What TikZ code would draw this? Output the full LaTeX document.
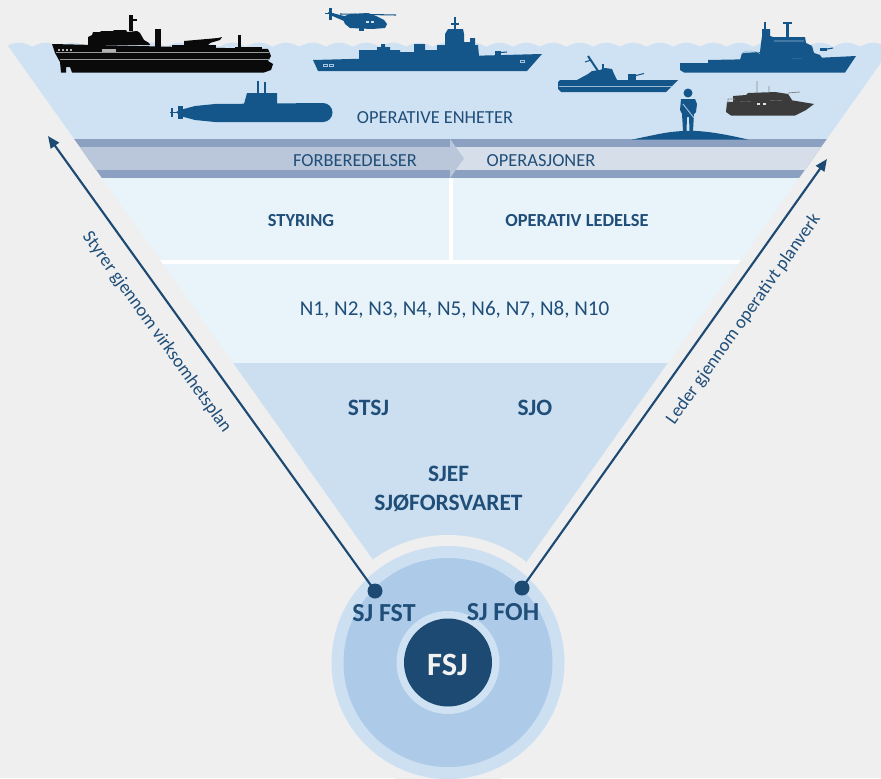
\documentclass[tikz,border=0pt]{standalone}
\usepackage{fontspec}
\setmainfont{Carlito}
\usetikzlibrary{arrows.meta}
\definecolor{bg}{HTML}{EFEFEF}
\definecolor{sea}{HTML}{CFE2F3}
\definecolor{banddark}{HTML}{8CA1C2}
\definecolor{bandl}{HTML}{BAC7DB}
\definecolor{bandr}{HTML}{D6DEE9}
\definecolor{lightsec}{HTML}{E9F3FA}
\definecolor{lowersec}{HTML}{CCDFF0}
\definecolor{ringc}{HTML}{CDE0F1}
\definecolor{medc}{HTML}{ADCBE8}
\definecolor{innerc}{HTML}{CFE2F3}
\definecolor{darkc}{HTML}{1D4A73}
\definecolor{txt}{HTML}{1F4E79}
\definecolor{arrowc}{HTML}{1D4A73}
\definecolor{shipc}{HTML}{14568A}
\definecolor{shipblk}{HTML}{0A0A0A}
\definecolor{boatc}{HTML}{3B3B3B}
\begin{document}
\begin{tikzpicture}[x=0.75pt,y=-0.75pt,
  lbl/.style={text=txt, inner sep=0, anchor=base, font=\fontsize{13.8pt}{16pt}\selectfont},
  lblb/.style={text=txt, inner sep=0, anchor=base, font=\bfseries\fontsize{13.8pt}{16pt}\selectfont},
  lbln/.style={text=txt, inner sep=0, anchor=base, font=\fontsize{15.8pt}{18pt}\selectfont},
  lblm/.style={text=txt, inner sep=0, anchor=base, font=\bfseries\fontsize{17.6pt}{20pt}\selectfont},
  lblf/.style={text=txt, inner sep=0, anchor=base, font=\bfseries\fontsize{19.5pt}{22pt}\selectfont},
  fsjstyle/.style={text=white!95!black, inner sep=0, anchor=base, font=\bfseries\fontsize{24.4pt}{28pt}\selectfont},
  slant/.style={text=txt, inner sep=0, font=\fontsize{13.8pt}{16pt}\selectfont},
  arr/.style={draw=arrowc, line width=1.6pt, -{Triangle[length=9pt,width=7.5pt]}},
  dot/.style={circle, fill=arrowc, inner sep=0, minimum size=11.25pt}
]
\useasboundingbox (0,0) rectangle (881,778);
\fill[bg] (0,0) rectangle (881,778);

% ---------- inverted triangle ----------
\begin{scope}
\clip (-10.3,20) -- (911.3,20) -- (450.5,669) -- cycle;
\fill[sea] (-10,140) -- plot[domain=-10:900, samples=700] (\x, {46.7-4*abs(sin(6.7416*(\x-5.6)))}) -- (900,140) -- cycle;
\fill[banddark] (-20,139) rectangle (920,178);
\fill[bandl] (-20,147) rectangle (450,170);
\fill[bandr] (450,147) rectangle (920,170);
\fill[bandl] (450,139) -- (464,158.5) -- (450,178) -- cycle;
\fill[lightsec] (-20,178) rectangle (920,363);
\draw[white, line width=3pt] (-20,262) -- (920,262);
\draw[white, line width=3pt] (451,178) -- (451,262);
\fill[lowersec] (-20,363) rectangle (920,700);
\end{scope}

% ---------- ships ----------
% black supply ship
\fill[shipblk] (52,44) -- (268,49) -- (271,56) -- (268,61) -- (273,64) -- (271,70) -- (264,72.5) -- (72,72.5) -- (70,67) -- (66,67) -- (66,72.5) -- (61,72.5) -- (60,62) -- (55,53) -- cycle;
\fill[shipblk] (88,45) -- (88,37) -- (92,35) -- (93,32) -- (100,32) -- (101,31) -- (113,31) -- (114,30) -- (126,30) -- (127,32) -- (137,31) -- (140,33) -- (144,40) -- (149,43) -- (150,45) -- cycle;
\fill[shipblk] (129,15) rectangle (133,31);
\fill[shipblk] (133,19) rectangle (137,21);
\fill[shipblk] (155,29) rectangle (161,50);
\fill[shipblk] (172,45) rectangle (216,52);
\fill[shipblk] (184,45) -- (184,41) -- (218,38) -- (222,37) -- (220,40) -- (210,43) -- (208,45) -- cycle;
\fill[shipblk] (238,35) rectangle (241,48);
\fill[shipblk] (235,47) rectangle (262,50);
\draw[gray!80, line width=0.5pt] (56,52.7) -- (269,52.7);
\draw[gray!80, line width=0.5pt] (60,59.3) -- (270,59.3);
\foreach \wx in {58,62,66,70} \fill[gray!60] (\wx,49) rectangle ++(2,1.6);
\fill[gray!60] (102,49) rectangle (116,51.5);

% helicopter
\fill[shipc] (342,17) -- (350,14) -- (368,13) -- (376,16) -- (384,20) -- (387,24) -- (385,28) -- (372,29) -- (350,28) -- (345,24) -- cycle;
\fill[shipc] (328,12) -- (344,16) -- (344,21) -- (330,15) -- cycle;
\fill[shipc] (329,8) rectangle (332,20);
\fill[shipc] (325,12.5) rectangle (334,14);
\draw[shipc, line width=0.8pt] (340,14) -- (396,15);
\fill[shipc] (359,28) rectangle (364,31);
\fill[sea] (366,21) rectangle (369,23);
\fill[sea] (371,21) rectangle (374,23);

% frigate
\fill[shipc] (313,60) -- (542,54) -- (527,71) -- (318,71) -- cycle;
\fill[shipc] (359,61) -- (359,50) -- (377,50) -- (377,47) -- (381,47) -- (381,44) -- (385,44) -- (385,47) -- (390,47) -- (390,50) -- (400,50) -- (400,52) -- (414,52) -- (414,44) -- (425,44) -- (425,50) -- (437,50) -- (437,45) -- (445,45) -- (445,34) -- (448,29) -- (463,29) -- (464,34) -- (464,42) -- (470,42) -- (470,38) -- (475,38) -- (475,45) -- (478,45) -- (479,56) -- cycle;
\fill[shipc] (454,17) rectangle (456,29);
\fill[shipc] (451,23) rectangle (459,24.5);
\fill[shipc] (495,51) rectangle (501,55);
\draw[shipc, line width=0.8pt] (501,52.5) -- (507,52);
\draw[sea!80!shipc, line width=0.4pt] (323,64) rectangle (327,66) (329,64) rectangle (333,66) (520,60) rectangle (524,62);

% patrol boat
\fill[shipc] (560,80) -- (678,80) -- (666,92) -- (561,92) -- (558,89) -- (558,82) -- cycle;
\draw[sea!70!shipc, line width=0.5pt] (559,86) -- (672,86);
\fill[shipc] (577,80) -- (588,74) -- (592,71) -- (600,70) -- (605,68) -- (612,69) -- (614,74) -- (617,80) -- cycle;
\draw[shipc, line width=1.5pt] (588,56) -- (598,71);
\draw[shipc, line width=0.8pt] (585,62) -- (591,60);
\draw[shipc, line width=1pt] (603,64) -- (603,69);
\fill[shipc] (628,74) rectangle (636,80);
\draw[shipc, line width=0.8pt] (636,75.5) -- (644,73.5);

% coast guard ship
\fill[shipc] (680,63) -- (708,63) -- (708,60) -- (815,58) -- (856,56) -- (845,72.5) -- (684,72.5) -- (680,70) -- cycle;
\fill[shipc] (740,60) -- (742,53) -- (760,52) -- (761,43) -- (762,36) -- (762,29) -- (770,29) -- (770,36) -- (773,37) -- (805,37) -- (806,43) -- (812,46) -- (814,53) -- (820,55) -- (822,58) -- cycle;
\fill[shipc] (786,23) rectangle (789,37);
\fill[shipc] (783,22) rectangle (792,24);
\fill[shipc] (764,22) rectangle (766,29);
\fill[shipc] (820,48) rectangle (827,51);
\draw[shipc, line width=0.8pt] (827,49) -- (833,48);
\draw[sea!70!shipc, line width=0.4pt] (742,54) .. controls (742,50) and (758,50) .. (760,54) (774,41) -- (804,41);

% submarine
\fill[shipc] (176,112) -- (180,110) -- (195,106) -- (215,104) -- (323,103) arc[start angle=-90, end angle=90, radius=9.5] -- (215,122) -- (195,120) -- (180,116) -- cycle;
\fill[shipc] (244,104) -- (247,93) -- (277,93) -- (277,104) -- cycle;
\fill[shipc] (257,81) rectangle (259,93);
\fill[shipc] (264,82) rectangle (266,93);
\fill[shipc] (178,106) rectangle (183,119);
\draw[shipc, line width=1pt] (170,112.5) -- (178,112.5);
\fill[shipc] (171,108) rectangle (173,117);

% soldier on island
\fill[shipc] (632,139.5) .. controls (660,134) and (665,132) .. (683,131) .. controls (700,130) and (720,133) .. (748,139.5) -- cycle;
\fill[shipc] (688,93) circle (4.5);
\fill[shipc] (681,99) -- (695,99) -- (697,104) -- (696,112) -- (694,114) -- (693,131) -- (689.5,131) -- (689,117) -- (687,117) -- (686.5,131) -- (683,131) -- (682,114) -- (680,110) -- cycle;
\draw[sea!70!shipc, line width=0.8pt] (683,104) -- (694,118);

% combat boat
\fill[boatc] (727,102) -- (790,100) -- (814,104) -- (806,110) -- (795,115.5) -- (731,115.5) -- (726,112) -- cycle;
\fill[boatc] (733,102) -- (733,96) -- (746,95) -- (748,93) -- (775,92) -- (788,94) -- (792,100) -- cycle;
\draw[boatc!60, line width=0.6pt] (757,81) -- (757,93) (769,86) -- (769,93) (728,103) -- (728,99) -- (735,99) (788,93) -- (800,92);
\fill[white!85!boatc] (757,103) rectangle (760,104.5);
\fill[white!85!boatc] (763,103) rectangle (766,104.5);

% ---------- circles ----------
\fill[bg] (448,662.5) circle (127.5);
\fill[ringc] (448,662.5) circle (116.5);
\fill[medc] (448,662.5) circle (104.5);
\fill[innerc] (448,662.5) circle (51.5);
\fill[darkc] (448,662.5) circle (44);

% ---------- texts ----------
\node[lbl] (oe) at (435,123) {OPERATIVE ENHETER};
\node[lbl] (fo) at (355,166) {FORBEREDELSER};
\node[lbl] (op) at (541,166) {OPERASJONER};
\node[lblb] (sty) at (301,226.5) {STYRING};
\node[lblb] (ol) at (577,226.5) {OPERATIV LEDELSE};
\node[lbln] (nn) at (454.5,315) {N1, N2, N3, N4, N5, N6, N7, N8, N10};
\node[lblm] (stsj) at (368.5,415) {STSJ};
\node[lblm] (sjo) at (535,415) {SJO};
\node[lblm] (sjef) at (448.5,481.5) {SJEF};
\node[lblm] (sjf) at (448.5,510) {SJØFORSVARET};
\node[lblf] (sjfst) at (384,621) {SJ FST};
\node[lblf] (sjfoh) at (503,620) {SJ FOH};
\node[fsjstyle] (fsj) at (447.5,675) {FSJ};

% ---------- arrows ----------
\node[dot] (dl) at (375,591) {};
\node[dot] (dr) at (522,588) {};
\coordinate (tl) at (48,136);
\coordinate (tr) at (827,159);
\draw[arr] (dl.center) -- (tl) node[slant, pos=0.602, sloped, below=13pt] (ltext) {Styrer gjennom virksomhetsplan};
\draw[arr] (dr.center) -- (tr) node[slant, pos=0.66, sloped, below=12pt] (rtext) {Leder gjennom operativt planverk};
\end{tikzpicture}
\end{document}
